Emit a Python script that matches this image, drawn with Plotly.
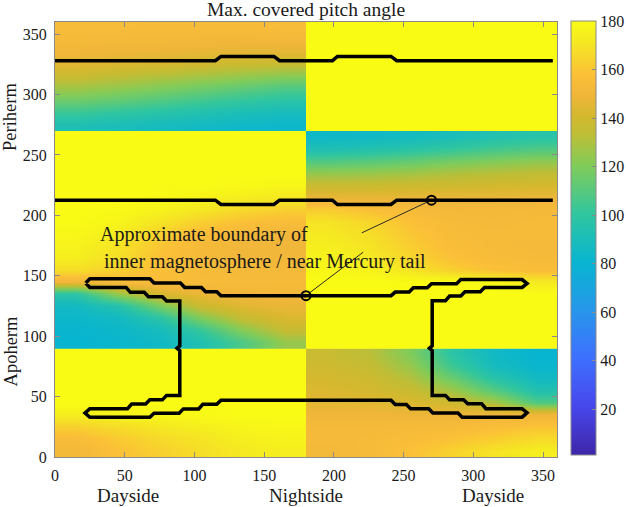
import plotly.graph_objects as go

# ---------------- data ----------------
x_left = [15, 45, 75, 105, 135, 165]
x_right = [195, 225, 255, 285, 315, 345]
y_rows = [5, 15, 25, 35, 45, 55, 65, 75, 85,
          95, 105, 115, 125, 135, 145, 155, 165, 175, 185, 195, 205, 215, 225, 235, 245, 255, 265,
          275, 285, 295, 305, 315, 325, 335, 345, 355]

left_grid = [
    [152, 158, 163, 168, 172, 174],
    [155, 161, 166, 170, 174, 176],
    [163, 167, 171, 174, 177, 178],
    [174, 176, 178, 179, 180, 180],
    [180, 180, 180, 180, 180, 180],
    [180, 180, 180, 180, 180, 180],
    [180, 180, 180, 180, 180, 180],
    [180, 180, 180, 180, 180, 180],
    [180, 180, 180, 180, 180, 180],
    [80, 82, 85, 93, 108, 125],
    [81, 83, 88, 102, 122, 136],
    [83, 86, 98, 120, 136, 143],
    [86, 95, 118, 138, 145, 148],
    [98, 125, 142, 148, 151, 152],
    [150, 155, 156, 155, 154, 154],
    [168, 163, 157, 154, 153, 153],
    [174, 168, 158, 153, 151, 151],
    [176, 170, 160, 153, 150, 150],
    [178, 173, 164, 156, 152, 151],
    [180, 177, 170, 163, 158, 156],
    [180, 179, 176, 171, 166, 163],
    [180, 180, 179, 177, 174, 172],
    [180, 180, 180, 180, 179, 178],
    [180, 180, 180, 180, 180, 180],
    [180, 180, 180, 180, 180, 180],
    [180, 180, 180, 180, 180, 180],
    [180, 180, 180, 180, 180, 180],
    [92, 90, 88, 86, 84, 83],
    [102, 99, 96, 93, 90, 88],
    [115, 112, 108, 104, 100, 97],
    [127, 124, 120, 116, 112, 108],
    [137, 134, 131, 128, 125, 122],
    [145, 143, 141, 139, 137, 136],
    [150, 149, 148, 147, 146, 146],
    [153, 152, 152, 151, 151, 151],
    [155, 155, 154, 154, 154, 155],
]

right_grid = [
    [152, 154, 158, 164, 170, 174],
    [153, 154, 156, 159, 163, 167],
    [153, 153, 154, 155, 157, 160],
    [150, 150, 149, 149, 150, 150],
    [146, 145, 143, 139, 129, 108],
    [143, 141, 137, 127, 110, 94],
    [141, 139, 131, 115, 97, 86],
    [139, 136, 125, 104, 88, 82],
    [137, 133, 120, 98, 85, 80],
    [180, 180, 180, 180, 180, 180],
    [180, 180, 180, 180, 180, 180],
    [180, 180, 180, 180, 180, 180],
    [180, 180, 180, 180, 180, 180],
    [180, 180, 180, 180, 180, 180],
    [180, 180, 180, 180, 178, 172],
    [178, 176, 170, 163, 158, 156],
    [176, 172, 165, 158, 155, 154],
    [174, 170, 162, 156, 154, 153],
    [172, 168, 160, 155, 154, 154],
    [170, 165, 158, 154, 153, 154],
    [162, 158, 154, 152, 152, 153],
    [147, 147, 147, 147, 147, 148],
    [137, 137, 138, 139, 140, 141],
    [124, 125, 127, 130, 132, 134],
    [108, 110, 113, 117, 120, 123],
    [92, 94, 97, 101, 105, 108],
    [84, 85, 87, 90, 94, 97],
    [180, 180, 180, 180, 180, 180],
    [180, 180, 180, 180, 180, 180],
    [180, 180, 180, 180, 180, 180],
    [180, 180, 180, 180, 180, 180],
    [180, 180, 180, 180, 180, 180],
    [180, 180, 180, 180, 180, 180],
    [180, 180, 180, 180, 180, 180],
    [180, 180, 180, 180, 180, 180],
    [180, 180, 180, 180, 180, 180],
]

# row blocks separated by sharp edges (at 90 and 270)
row_blocks = [(0, 9), (9, 27), (27, 36)]

# boundary of inner magnetosphere / near tail (closed loop)
loop_x = [22, 25, 68, 71, 90, 93, 105, 108, 116, 119, 241, 244, 254, 257, 267, 270, 288, 291, 335, 338.5,
          335, 308, 305, 294, 291, 283, 280, 270.5, 270.5, 268.5, 270.5, 270.5, 280, 283, 293, 296, 306, 309,
          335, 338.5, 335, 292, 289, 271, 268, 255, 252, 244, 241, 119, 116, 106, 103, 92, 89, 71, 68, 25,
          21.5, 25, 52, 55, 65, 68, 77, 80, 89.5, 89.5, 87.5, 89.5, 89.5, 80, 77, 67, 64, 54, 51, 25, 22]
loop_y = [144, 147.5, 147.5, 144, 144, 140.3, 140.3, 136.8, 136.8, 133.5, 133.5, 136.5, 136.5, 140, 140,
          143.3, 143.3, 146.8, 146.8, 143.5, 140.3, 140.3, 136.8, 136.8, 133.2, 133.2, 129.3, 129.3, 92, 90,
          88, 51, 51, 47.4, 47.4, 44, 44, 40, 40, 36.6, 33, 33, 36.4, 36.4, 40, 40, 43.5, 43.5, 47, 47, 43.6,
          43.6, 39.8, 39.8, 36.2, 36.2, 32.8, 32.8, 36.4, 40, 40, 43.8, 43.8, 47.3, 47.3, 51, 51, 88, 90, 92,
          129.2, 129.2, 132.6, 132.6, 136.3, 136.3, 140.3, 140.3, 144]

# periherm boundary lines
peri_x = [0, 115, 119, 157, 161, 199, 202.5, 241, 245, 357]
peri_upper_y = [328, 328, 331.5, 331.5, 328, 328, 331.5, 331.5, 328, 328]
peri_lower_y = [212.5, 212.5, 209, 209, 212.5, 212.5, 209, 209, 212.5, 212.5]

# marked points and leader lines
mark_x = [270, 180]
mark_y = [212.5, 133.5]
leader1_x, leader1_y = [220, 267.3], [185.5, 211.2]
leader2_x, leader2_y = [221, 182.5], [169.5, 135.8]

x_ticks = [0, 50, 100, 150, 200, 250, 300, 350]
y_ticks = [0, 50, 100, 150, 200, 250, 300, 350]
cbar_ticks = [20, 40, 60, 80, 100, 120, 140, 160, 180]

parula = [
    [0.000, '#3e26a8'], [0.111, '#4747eb'], [0.222, '#3e6ffe'], [0.333, '#2796eb'],
    [0.444, '#08b5d0'], [0.556, '#31c69f'], [0.667, '#81cc59'], [0.740, '#bfbe36'],
    [0.785, '#d6b82e'], [0.830, '#f0b63a'], [0.875, '#fbbf38'], [0.920, '#f7d82b'],
    [0.960, '#f5ec20'], [1.000, '#f9fb15'],
]

FONT = 'Liberation Serif, Times New Roman, serif'
TXT = '#1a1a1a'

fig = go.Figure()

for xs, grid in ((x_left, left_grid), (x_right, right_grid)):
    for a, b in row_blocks:
        fig.add_trace(go.Heatmap(
            x=xs, y=y_rows[a:b], z=grid[a:b], zsmooth='best',
            coloraxis='coloraxis', hoverinfo='skip'))

line_style = dict(color='black', width=3.5)
fig.add_trace(go.Scatter(x=peri_x, y=peri_upper_y, mode='lines', line=line_style,
                         showlegend=False, hoverinfo='skip'))
fig.add_trace(go.Scatter(x=peri_x, y=peri_lower_y, mode='lines', line=line_style,
                         showlegend=False, hoverinfo='skip'))
fig.add_trace(go.Scatter(x=loop_x, y=loop_y, mode='lines', line=line_style,
                         showlegend=False, hoverinfo='skip'))
for lx, ly in ((leader1_x, leader1_y), (leader2_x, leader2_y)):
    fig.add_trace(go.Scatter(x=lx, y=ly, mode='lines', line=dict(color='#2a2a2a', width=1),
                             showlegend=False, hoverinfo='skip'))
fig.add_trace(go.Scatter(x=mark_x, y=mark_y, mode='markers',
                         marker=dict(symbol='circle-open', size=9, color='black', line=dict(width=2)),
                         showlegend=False, hoverinfo='skip'))

axis_common = dict(showgrid=False, zeroline=False, showline=True, linecolor='#8a8a8a', linewidth=1,
                   mirror='ticks', ticks='inside', ticklen=5, tickcolor='#8a8a8a',
                   tickfont=dict(family=FONT, size=16, color=TXT), ticklabelstandoff=4)

fig.update_layout(
    width=626, height=507, autosize=False,
    margin=dict(l=55, r=69, t=22, b=50, autoexpand=False),
    paper_bgcolor='white', plot_bgcolor='white',
    showlegend=False,
    xaxis=dict(range=[0, 360], tickvals=x_ticks, automargin=False, **axis_common),
    yaxis=dict(range=[0, 360], tickvals=y_ticks, automargin=False, **axis_common),
    coloraxis=dict(
        colorscale=parula, cmin=1, cmax=180,
        colorbar=dict(
            x=1.028, xanchor='left', xpad=0, ypad=0,
            y=0.503, yanchor='middle', len=0.998, lenmode='fraction',
            thickness=25, thicknessmode='pixels',
            outlinecolor='#8a8a8a', outlinewidth=1,
            tickvals=cbar_ticks, ticks='inside', ticklen=4, tickcolor='#8a8a8a',
            tickfont=dict(family=FONT, size=16, color=TXT),
        ),
    ),
    title=dict(text='Max. covered pitch angle', x=0.5, xref='paper', xanchor='center',
               y=1 - 9 / 507, yref='container', yanchor='middle',
               font=dict(family=FONT, size=19.5, color=TXT)),
    font=dict(family=FONT, color=TXT),
)

annots = [
    dict(text='Dayside', x=52, y=-0.088, xref='x', yref='paper', size=19),
    dict(text='Nightside', x=180, y=-0.088, xref='x', yref='paper', size=19),
    dict(text='Dayside', x=314, y=-0.088, xref='x', yref='paper', size=19),
    dict(text='Periherm', x=-0.0885, y=281, xref='paper', yref='y', textangle=-90, size=18.5),
    dict(text='Apoherm', x=-0.0885, y=87, xref='paper', yref='y', textangle=-90, size=18.5),
]
for a in annots:
    size = a.pop('size')
    fig.add_annotation(showarrow=False, xanchor='center', yanchor='middle',
                       font=dict(family=FONT, size=size, color=TXT), **a)

fig.add_annotation(text='Approximate boundary of', x=31, y=184, xref='x', yref='y',
                   xanchor='left', yanchor='middle', showarrow=False,
                   font=dict(family=FONT, size=20, color=TXT))
fig.add_annotation(text='inner magnetosphere / near Mercury tail', x=33.5, y=162, xref='x', yref='y',
                   xanchor='left', yanchor='middle', showarrow=False,
                   font=dict(family=FONT, size=20, color=TXT))

fig.write_html(
    "out.html",
    config={'responsive': False, 'displayModeBar': False},
    post_script="document.body.style.margin='0';document.documentElement.style.overflow='hidden';document.body.style.overflow='hidden';",
)
